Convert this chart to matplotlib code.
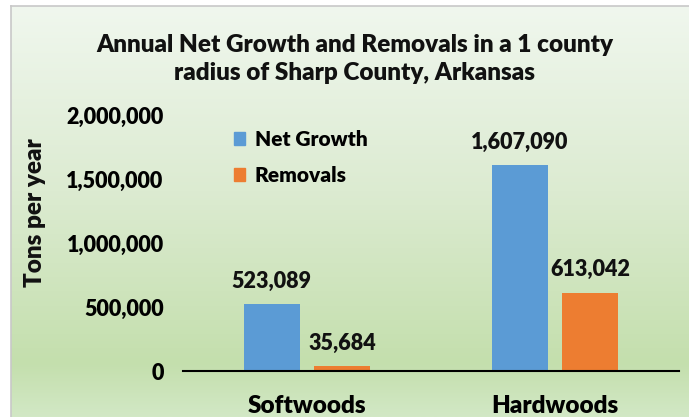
import matplotlib
matplotlib.use("Agg")
from matplotlib import pyplot as plt
from matplotlib.colors import LinearSegmentedColormap
from matplotlib.patches import Patch
import numpy as np

# data
categories = ["Softwoods", "Hardwoods"]
net_growth = [523089, 1607090]
removals = [35684, 613042]
series_labels = ["Net Growth", "Removals"]
yticks = [0, 500000, 1000000, 1500000, 2000000]

blue = "#5b9bd5"
orange = "#ed7d31"
font = "Lato"
wt = "heavy"
W, H = 689, 417

plt.rcParams['font.family'] = [font, 'DejaVu Sans']

fig = plt.figure(figsize=(W / 100, H / 100), dpi=100)
fig.patch.set_facecolor("white")

# gradient background of the chart area
bg = fig.add_axes([11 / W, 0, 1 - 11 / W, (H - 6) / H])
cmap = LinearSegmentedColormap.from_list(
    "bg", [(0.0, "#f0f7ee"), (0.45, "#dcebd1"), (0.87, "#c4dfad"), (1.0, "#d2e8c5")])
grad = np.linspace(0, 1, 256).reshape(-1, 1)
bg.imshow(grad, aspect="auto", cmap=cmap, extent=[0, 1, 1, 0])
bg.set_axis_off()
fig.add_artist(plt.Line2D([11 / W, 11 / W], [0, (H - 6) / H], color="#c8c8c8", lw=1.2))
fig.add_artist(plt.Line2D([11 / W, 1], [(H - 6) / H, (H - 6) / H], color="#c8c8c8", lw=1.2))

ax = fig.add_axes([183 / W, (H - 371) / H, 496 / W, 256 / H])
ax.patch.set_alpha(0)

x = np.array([0.5, 1.5])
bw = 0.224
off = 0.142
b1 = ax.bar(x - off, net_growth, bw, color=blue, zorder=2)
b2 = ax.bar(x + off, removals, bw, color=orange, zorder=2)

for bars, vals in ((b1, net_growth), (b2, removals)):
    for r, v in zip(bars, vals):
        ax.annotate("{:,}".format(v), (r.get_x() + r.get_width() / 2, v),
                    xytext=(0, 9), textcoords="offset points", ha="center", va="bottom",
                    fontsize=15.5, fontweight=wt, color="#111111")

ax.set_xlim(0, 2)
ax.set_ylim(0, 2000000)
ax.set_yticks(yticks)
ax.set_yticklabels(["{:,}".format(t) for t in yticks], fontsize=15.5, fontweight=wt)
ax.set_xticks(x)
ax.set_xticklabels(categories, fontsize=17.5, fontweight=wt)
ax.tick_params(axis="y", length=0, pad=14)
ax.tick_params(axis="x", length=0, pad=17.5)
for s in ("top", "right", "left"):
    ax.spines[s].set_visible(False)
ax.spines["bottom"].set_linewidth(1.5)
ax.spines["bottom"].set_zorder(3)

fig.text(35 / W, 1 - 213 / H, "Tons per year", rotation=90, ha="center", va="center",
         fontsize=17.5, fontweight=wt, color="#111111")

handles = [Patch(color=blue), Patch(color=orange)]
ax.legend(handles, series_labels, loc="upper left", bbox_to_anchor=(215 / W, (H - 111) / H),
          bbox_transform=fig.transFigure, frameon=False,
          prop={"size": 15, "weight": wt},
          handlelength=0.55, handleheight=0.55, handletextpad=0.45, labelspacing=0.82)

fig.text(355 / W, 1 - 59 / H, "Annual Net Growth and Removals in a 1 county\nradius of Sharp County, Arkansas",
         ha="center", va="center", fontsize=17.5, fontweight=wt, linespacing=1.3, color="#111111")

fig.savefig("out.png", dpi=100)
